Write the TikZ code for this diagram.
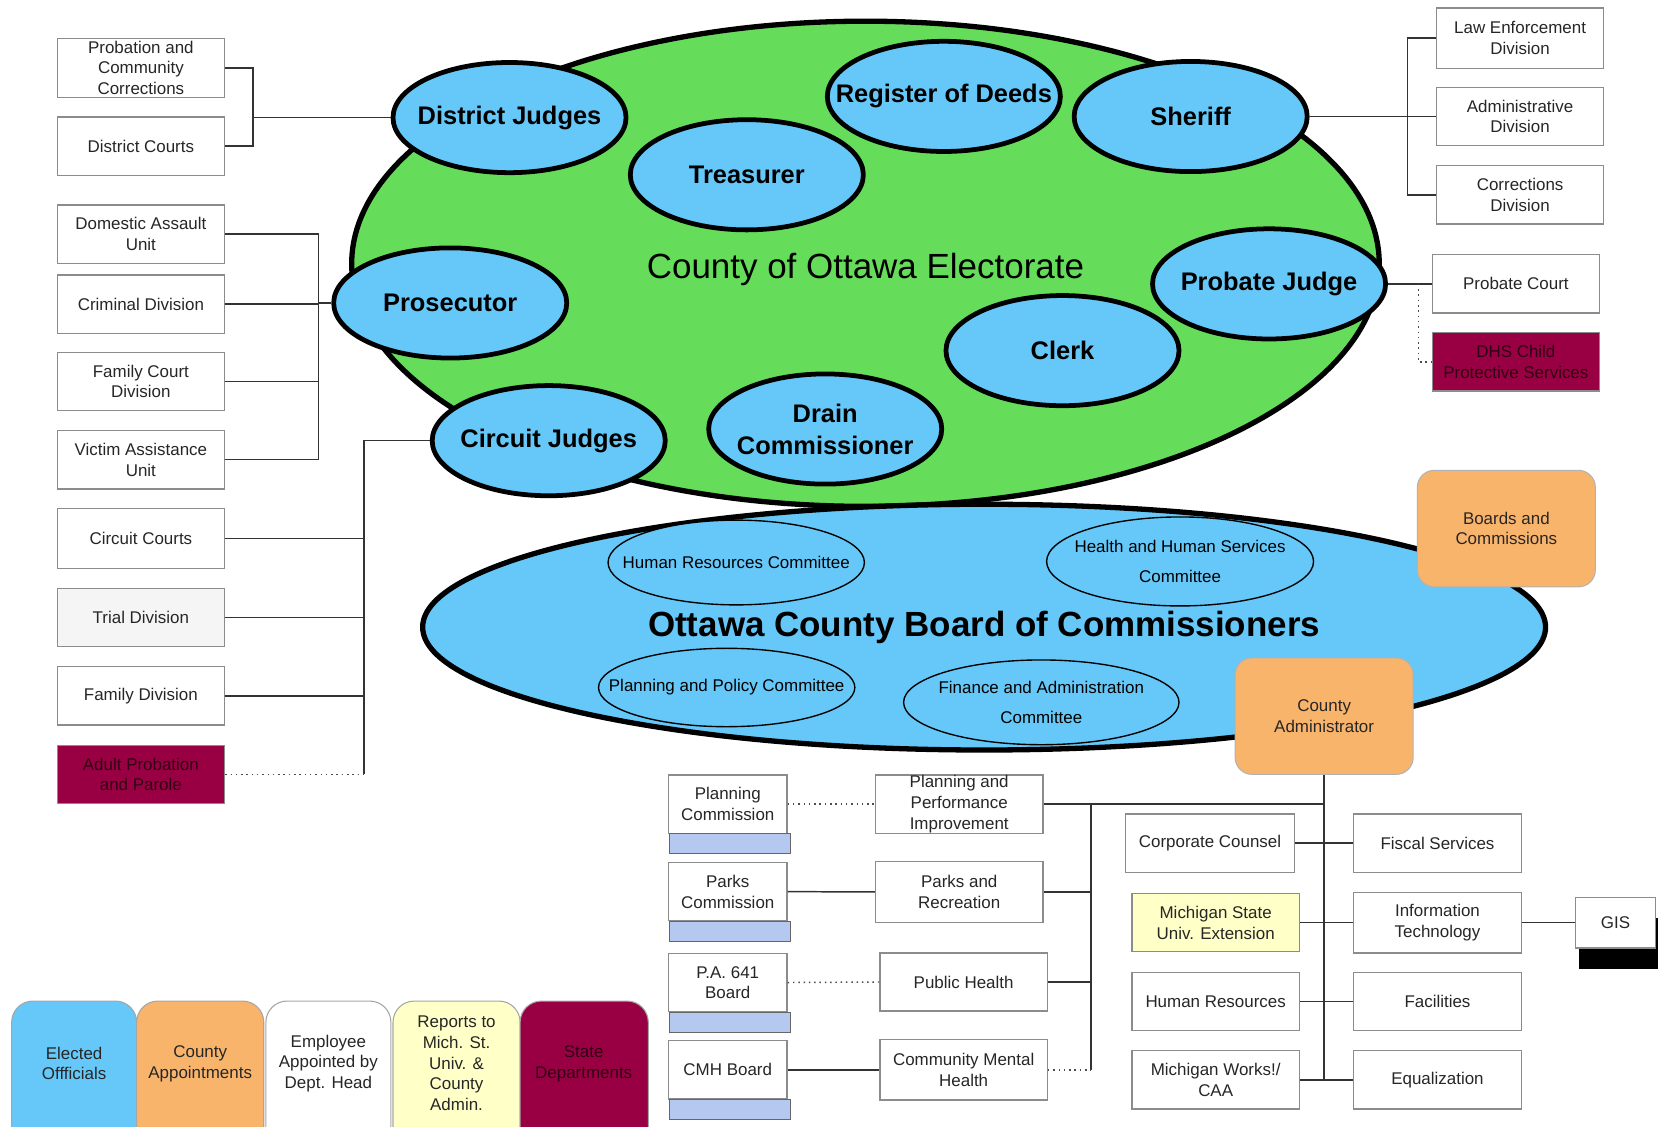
\documentclass[tikz,border=0pt]{standalone}
\usepackage{fontspec}
\setmainfont{Liberation Sans}
\usetikzlibrary{shapes.geometric,shadows}
\definecolor{grn}{HTML}{66DD5A}
\definecolor{skyblue}{HTML}{66C8F8}
\definecolor{peach}{HTML}{F9B46C}
\definecolor{maroon}{HTML}{990044}
\definecolor{maroonink}{HTML}{300012}
\definecolor{paleyellow}{HTML}{FFFFC8}
\definecolor{bandblue}{HTML}{B4C8F0}
\newcommand\smfnt{\fontsize{16}{19.5}\selectfont}
\newcommand\cmfnt{\fontsize{16}{28}\selectfont}
\newcommand\bigfnt{\fontsize{24}{30}\selectfont\bfseries}
\newcommand\hugefnt{\fontsize{33}{40}\selectfont}
\begin{document}
\begin{tikzpicture}[x=1pt, y=-1pt,
  box/.style={draw=black!45, line width=1.2pt, fill=white, minimum width=158pt,
    minimum height=55pt, inner sep=0pt, align=center, text=black!85, font=\smfnt},
  state/.style={box, fill=maroon, text=maroonink},
  boardbox/.style={box, minimum width=112pt},
  band/.style={draw=black!60, line width=1pt, fill=bandblue},
  office/.style={ellipse, draw=black, line width=4.5pt, fill=skyblue,
    minimum width=220pt, minimum height=104pt, inner xsep=-30pt, inner ysep=0pt,
    align=center, font=\bigfnt},
  committee/.style={ellipse, draw=black, line width=1.3pt, fill=skyblue,
    inner xsep=-40pt, inner ysep=0pt, align=center, font=\cmfnt},
  appointed/.style={rounded corners=16pt, draw=black!30, line width=1pt, fill=peach,
    minimum width=168pt, minimum height=110pt, align=center, text=black!85, font=\smfnt},
  conn/.style={draw=black!80, line width=1.4pt},
  dotconn/.style={draw=black!70, line width=1.4pt, dash pattern=on 1.4pt off 3.6pt},
  legend/.style={draw=black!35, line width=1pt, rounded corners=20pt},
  legtext/.style={align=center, font=\smfnt, text=black!85}]
\useasboundingbox (0,0) rectangle (1568,1063);
\clip (0,0) rectangle (1568,1063);

\node[box, minimum height=56pt] (PCC) at (133,64) {Probation and\\Community\\Corrections};
\node[box] (DC) at (133,138) {District Courts};
\node[box] (DAU) at (133,221) {Domestic Assault\\Unit};
\node[box] (CD) at (133,287) {Criminal Division};
\node[box] (FCD) at (133,360) {Family Court\\Division};
\node[box] (VAU) at (133,434) {Victim Assistance\\Unit};
\node[box, minimum height=57pt] (CC) at (133,508.5) {Circuit Courts};
\node[box, fill=black!4] (TD) at (133,583) {Trial Division};
\node[box] (FD) at (133,657) {Family Division};
\node[state] (APP) at (133,731) {Adult Probation\\and Parole};

\node[box, minimum height=57pt] (LED) at (1435,36) {Law Enforcement\\Division};
\node[box] (AD) at (1435,110) {Administrative\\Division};
\node[box] (CorD) at (1435,184) {Corrections\\Division};
\node[box] (PC) at (1431,268) {Probate Court};
\node[state] (DHS) at (1431,341.5) {DHS Child\\Protective Services};

\node[ellipse, draw=black, line width=5pt, fill=grn, minimum width=970pt,
  minimum height=458pt, inner sep=0pt] (Elec) at (817,249) {};
\node[font=\hugefnt] (ElecT) at (817,254) {County of Ottawa Electorate};
\node[office] (DJ) at (481,111) {District Judges};
\node[office] (RD) at (891,91) {Register of Deeds};
\node[office] (Sher) at (1124,110) {Sheriff};
\node[office] (Tre) at (705,165) {Treasurer};
\node[office] (Pros) at (425,286) {Prosecutor};
\node[office] (Clerk) at (1003,331) {Clerk};
\node[office] (PJ) at (1198,268) {Probate Judge};
\node[office] (CJ) at (518,416) {Circuit Judges};
\node[office] (DrC) at (779,405) {Drain\\Commissioner};

\node[ellipse, draw=black, line width=5pt, fill=skyblue, minimum width=1060pt,
  minimum height=232pt, inner sep=0pt, font=\hugefnt\bfseries] (Board) at (929,592) {Ottawa County Board of Commissioners};
\node[committee, minimum width=242pt, minimum height=80pt] (HRC) at (695,531) {Human Resources Committee};
\node[committee, minimum width=252pt, minimum height=84pt] (HHS) at (1114,530) {Health and Human Services\\Committee};
\node[committee, minimum width=242pt, minimum height=74pt] (PPC) at (686,649) {Planning and Policy Committee};
\node[committee, minimum width=260pt, minimum height=80pt] (FAC) at (983,663) {Finance and Administration\\Committee};

\node[appointed] (BC) at (1422,499) {Boards and\\Commissions};
\node[appointed] (CA) at (1250,676) {County\\Administrator};

\node[boardbox] (PlC) at (687,759) {Planning\\Commission};
\draw[band] ([xshift=2pt]PlC.south west) rectangle ([xshift=3pt,yshift=-19pt]PlC.south east);
\node[boardbox] (PkC) at (687,841.7) {Parks\\Commission};
\draw[band] ([xshift=2pt]PkC.south west) rectangle ([xshift=3pt,yshift=-19pt]PkC.south east);
\node[boardbox] (PA) at (687,927.5) {P.A. 641\\Board};
\draw[band] ([xshift=2pt]PA.south west) rectangle ([xshift=3pt,yshift=-19pt]PA.south east);
\node[boardbox] (CMHB) at (687,1010) {CMH Board};
\draw[band] ([xshift=2pt]CMHB.south west) rectangle ([xshift=3pt,yshift=-19pt]CMHB.south east);

\node[box] (PPI) at (905.5,759) {Planning and\\Performance\\Improvement};
\node[box, minimum height=57pt] (PR) at (905.5,842) {Parks and\\Recreation};
\node[box] (PH) at (909.7,927) {Public Health};
\node[box, minimum height=57pt] (CMH) at (909.7,1010) {Community Mental\\Health};
\node[box, minimum width=160pt] (CoC) at (1142.3,796) {Corporate Counsel};
\node[box, fill=paleyellow] (MSU) at (1147.6,871) {Michigan State\\Univ. Extension};
\node[box] (HR) at (1147.6,945.5) {Human Resources};
\node[box] (MW) at (1147.6,1019.5) {Michigan Works!/\\CAA};
\node[box, minimum width=159pt] (FS) at (1357,796) {Fiscal Services};
\node[box, minimum height=57pt] (IT) at (1357,871) {Information\\Technology};
\node[box] (Fac) at (1357,945.5) {Facilities};
\node[box] (Eq) at (1357,1019.5) {Equalization};
\node[box, minimum width=75pt, minimum height=48pt,
  general shadow={fill=black, shadow xshift=3pt, shadow yshift=-20pt}] (GIS) at (1525,871) {GIS};

\coordinate (djx) at (239,111);
\draw[conn] (DJ.west) -- (djx);
\draw[conn] (PCC.east) -| (djx) |- (DC.east);
\coordinate (prx) at (300.5,286);
\draw[conn] (Pros.west) -- (prx);
\draw[conn] (DAU.east) -| (prx) |- (VAU.east);
\draw[conn] (CD.east) -- (CD.east -| prx);
\draw[conn] (FCD.east) -- (FCD.east -| prx);
\coordinate (cjx) at (343.6,416);
\draw[conn] (CJ.west) -- (cjx) -- (cjx |- APP.east);
\draw[conn] (CC.east) -- (CC.east -| cjx);
\draw[conn] (TD.east) -- (TD.east -| cjx);
\draw[conn] (FD.east) -- (FD.east -| cjx);
\draw[dotconn] (APP.east) -- (APP.east -| cjx);

\coordinate (shx) at (1328.5,110);
\draw[conn] (Sher.east) -- (AD.west);
\draw[conn] (LED.west) -| (shx) |- (CorD.west);
\draw[conn] (PJ.east) -- (PC.west);
\coordinate (pjx) at (1339,268);
\draw[dotconn] (pjx) |- (DHS.west);

\draw[conn] (CA.south) -- (CA.south |- Eq.west);
\draw[conn] (PPI.east) -- (PPI.east -| CA.south);
\coordinate (mv) at (1029.8,759);
\draw[conn] (mv) -- (mv |- CMH.east);
\draw[conn] (PR.east) -- (PR.east -| mv);
\draw[conn] (PH.east) -- (PH.east -| mv);
\draw[dotconn] (CMH.east) -- (CMH.east -| mv);
\draw[dotconn] (PlC.east) -- (PPI.west);
\draw[conn] (PkC.east) -- (PR.west);
\draw[dotconn] (PA.east) -- (PH.west);
\draw[conn] (CMHB.east) -- (CMH.west);
\draw[conn] (CoC.east) -- (FS.west);
\draw[conn] (MSU.east) -- (IT.west);
\draw[conn] (HR.east) -- (Fac.west);
\draw[conn] (MW.east) -- (Eq.west);
\draw[conn] (IT.east) -- (GIS.west);

\draw[legend, fill=skyblue] (11,945) rectangle (129,1090);
\draw[legend, fill=peach] (129,945) rectangle (249,1090);
\draw[legend, fill=white] (251,945) rectangle (369,1090);
\draw[legend, fill=paleyellow] (371,945) rectangle (491,1090);
\draw[legend, fill=maroon] (491,945) rectangle (612,1090);
\node[legtext] (Lelect) at (70,1004) {Elected\\Offficials};
\node[legtext] (Lcounty) at (189,1004) {County\\Appointments};
\node[legtext] (Lemp) at (310,1004) {Employee\\Appointed by\\Dept. Head};
\node[legtext] (Lmsu) at (431,1004) {Reports to\\Mich. St.\\Univ. \&\\County\\Admin.};
\node[legtext, text=maroonink] (Lstate) at (551,1004) {State\\Departments};
\end{tikzpicture}
\end{document}
